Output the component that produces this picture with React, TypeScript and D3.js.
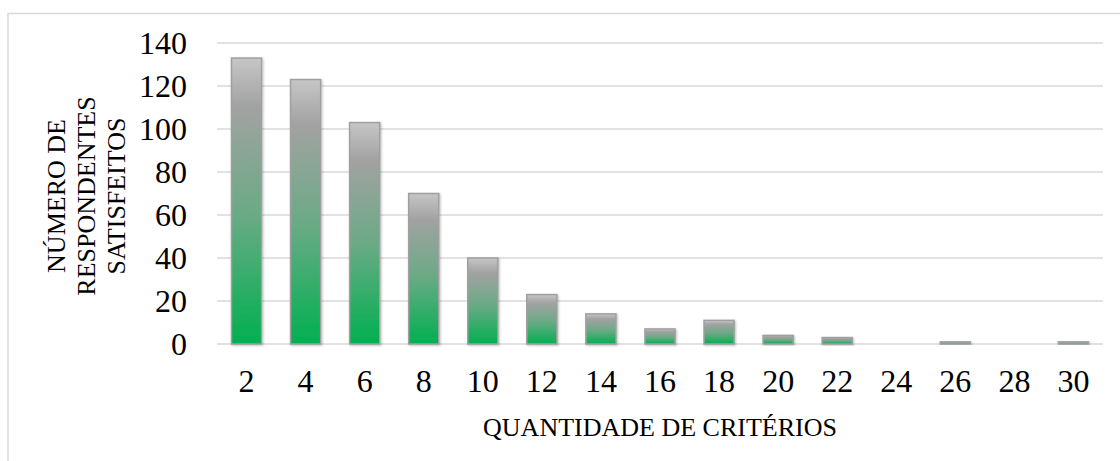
import * as d3 from "d3";
import { useEffect, useRef } from "react";

const criterios = ["2", "4", "6", "8", "10", "12", "14", "16", "18", "20", "22", "24", "26", "28", "30"];
const respondentes = [133, 123, 103, 70, 40, 23, 14, 7, 11, 4, 3, 0, 1, 0, 1];
const yTicks = [0, 20, 40, 60, 80, 100, 120, 140];
const yTitle = ["NÚMERO DE", "RESPONDENTES", "SATISFEITOS"];
const xTitle = "QUANTIDADE DE CRITÉRIOS";

const W = 1120;
const H = 461;

const App = () => {
  const ref = useRef<SVGSVGElement | null>(null);

  useEffect(() => {
    if (!ref.current) return;
    const svg = d3.select(ref.current);
    svg.selectAll("*").remove();

    const left = 217,
      right = 1103,
      top = 43,
      bottom = 344;

    const x = d3.scaleBand().domain(criterios).range([left, right]).paddingInner(0.49).paddingOuter(0.245);
    const y = d3.scaleLinear().domain([0, 140]).range([bottom, top]);

    const defs = svg.append("defs");
    const grad = defs.append("linearGradient").attr("id", "barGrad").attr("x1", 0).attr("y1", 0).attr("x2", 0).attr("y2", 1);
    grad.append("stop").attr("offset", "0%").attr("stop-color", "#c6c6c6");
    grad.append("stop").attr("offset", "17%").attr("stop-color", "#a2a2a2");
    grad.append("stop").attr("offset", "55%").attr("stop-color", "#6aaa85");
    grad.append("stop").attr("offset", "100%").attr("stop-color", "#00b050");

    const shadow = defs.append("filter").attr("id", "sh").attr("x", "-20%").attr("y", "-20%").attr("width", "140%").attr("height", "140%");
    shadow.append("feDropShadow").attr("dx", 1).attr("dy", 1).attr("stdDeviation", 1.2).attr("flood-color", "#000").attr("flood-opacity", 0.25);

    // outer frame
    svg
      .append("rect")
      .attr("x", 8)
      .attr("y", 13.5)
      .attr("width", W + 20)
      .attr("height", H + 20)
      .attr("fill", "none")
      .attr("stroke", "#d9d9d9")
      .attr("stroke-width", 1.5);

    // gridlines
    svg
      .append("g")
      .selectAll("line")
      .data(yTicks)
      .enter()
      .append("line")
      .attr("x1", left)
      .attr("x2", right)
      .attr("y1", (d) => y(d))
      .attr("y2", (d) => y(d))
      .attr("stroke", "#d9d9d9")
      .attr("stroke-width", 1.5);

    // y tick labels
    svg
      .append("g")
      .selectAll("text")
      .data(yTicks)
      .enter()
      .append("text")
      .attr("x", 187)
      .attr("y", (d) => y(d) + 11)
      .attr("text-anchor", "end")
      .attr("font-family", "'Liberation Serif', 'Times New Roman', serif")
      .attr("font-size", 32)
      .attr("fill", "#000")
      .text((d) => d);

    // bars
    svg
      .append("g")
      .selectAll("rect")
      .data(respondentes.map((v, i) => ({ name: criterios[i], v })))
      .enter()
      .filter((d) => d.v > 0)
      .append("rect")
      .attr("x", (d) => x(d.name) as number)
      .attr("y", (d) => y(d.v))
      .attr("width", x.bandwidth())
      .attr("height", (d) => y(0) - y(d.v))
      .attr("fill", "url(#barGrad)")
      .attr("stroke", "#a0a0a0")
      .attr("stroke-width", 1.5)
      .attr("filter", "url(#sh)");

    // x tick labels
    svg
      .append("g")
      .selectAll("text")
      .data(criterios)
      .enter()
      .append("text")
      .attr("x", (d) => (x(d) as number) + x.bandwidth() / 2)
      .attr("y", 392)
      .attr("text-anchor", "middle")
      .attr("font-family", "'Liberation Serif', 'Times New Roman', serif")
      .attr("font-size", 32)
      .attr("fill", "#000")
      .text((d) => d);

    // x title
    svg
      .append("text")
      .attr("x", (left + right) / 2)
      .attr("y", 436)
      .attr("text-anchor", "middle")
      .attr("font-family", "'Liberation Serif', 'Times New Roman', serif")
      .attr("font-size", 26)
      .attr("fill", "#000")
      .text(xTitle);

    // y title
    const yt = svg
      .append("text")
      .attr("transform", "translate(0,196) rotate(-90)")
      .attr("text-anchor", "middle")
      .attr("font-family", "'Liberation Serif', 'Times New Roman', serif")
      .attr("font-size", 26)
      .attr("fill", "#000");
    yTitle.forEach((line, i) => {
      yt.append("tspan")
        .attr("x", 0)
        .attr("y", 65 + i * 30)
        .text(line);
    });
  }, []);

  return <svg ref={ref} width={W} height={H} style={{ position: "absolute", left: 0, top: 0, background: "#fff" }} />;
};

export default App;
